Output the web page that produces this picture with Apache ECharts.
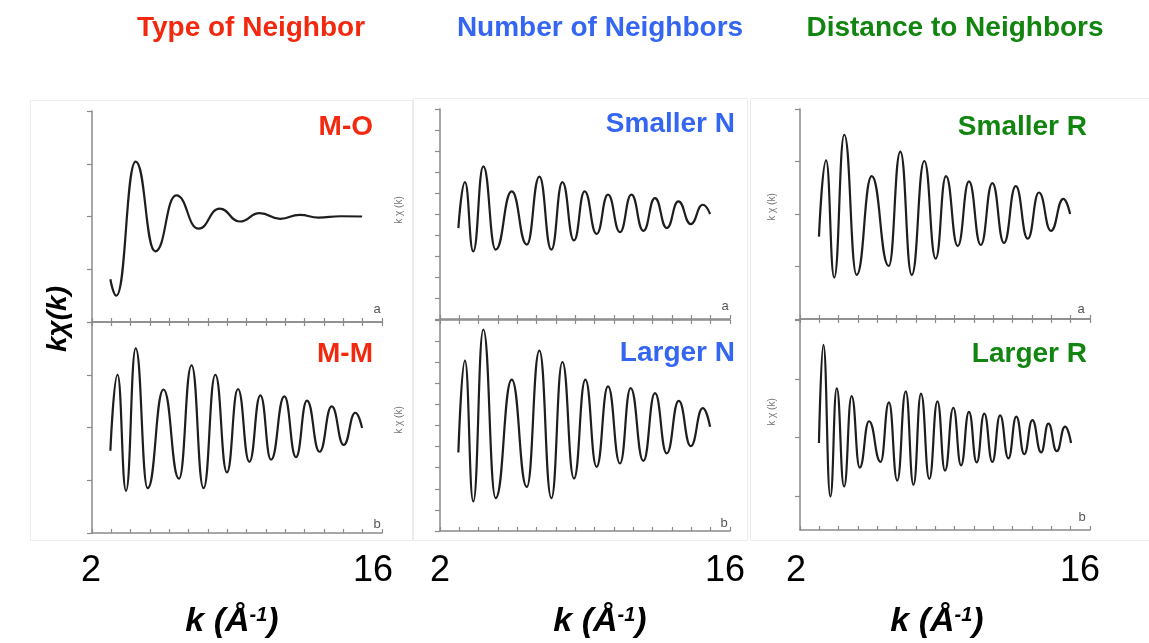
<!DOCTYPE html>
<html>
<head>
<meta charset="utf-8">
<script src="https://cdn.jsdelivr.net/npm/echarts@6/dist/echarts.min.js"></script>
<style>
  html, body { margin: 0; padding: 0; background: #fff; }
  #chart { width: 1149px; height: 643px; }
</style>
</head>
<body>
<div id="chart"></div>
<script>
// k range shared by every panel (Å^-1)
const kMin = 2;
const kMax = 17;
const kEndLabels = ['2', '16'];

// Column headings and panel captions
const headings = ['Type of Neighbor', 'Number of Neighbors', 'Distance to Neighbors'];
const panelNames = [['M-O', 'M-M'], ['Smaller N', 'Larger N'], ['Smaller R', 'Larger R']];
const panelLetters = ['a', 'b'];

// kχ(k) traces: turning points [k, kχ(k)] from the first to the last k
const moTrace = [[2.95,-1.19],[3.26,-1.50],[4.26,1.04],[5.27,-0.66],[6.36,0.40],[7.51,-0.23],
  [8.60,0.15],[9.64,-0.095],[10.67,0.063],[11.74,-0.044],[12.74,0.032],[13.72,-0.02],[14.85,0.005],[15.97,0]];

const mmTrace = [[2.95,-0.44],[3.32,1.00],[3.76,-1.20],[4.26,1.50],[4.88,-1.15],[5.70,0.72],[6.50,-0.97],
  [7.15,1.18],[7.77,-1.15],[8.38,1.00],[8.98,-0.85],[9.55,0.73],[10.14,-0.65],[10.71,0.61],[11.26,-0.61],
  [11.95,0.59],[12.55,-0.56],[13.12,0.51],[13.77,-0.46],[14.40,0.40],[15.02,-0.33],[15.62,0.28],[15.97,-0.01]];

const smallerNTrace = [[2.95,-0.67],[3.29,1.52],[3.72,-1.78],[4.24,2.27],[4.88,-1.70],[5.71,1.08],[6.49,-1.46],
  [7.14,1.78],[7.76,-1.70],[8.33,1.52],[8.93,-1.26],[9.48,1.08],[10.10,-0.95],[10.69,0.92],[11.31,-0.86],
  [11.90,0.92],[12.52,-0.80],[13.12,0.76],[13.73,-0.67],[14.33,0.60],[14.97,-0.48],[15.59,0.44],[15.97,0]];

const largerNTrace = [[2.95,-1.28],[3.29,3.07],[3.72,-3.60],[4.24,4.55],[4.88,-3.44],[5.71,2.17],[6.49,-2.91],
  [7.14,3.55],[7.76,-3.44],[8.33,3.01],[8.93,-2.51],[9.52,2.17],[10.10,-1.96],[10.69,1.85],[11.31,-1.80],
  [11.86,1.77],[12.52,-1.68],[13.12,1.53],[13.73,-1.32],[14.35,1.17],[14.97,-0.98],[15.59,0.82],[15.97,-0.06]];

const smallerRTrace = [[2.98,-0.43],[3.35,1.02],[3.77,-1.21],[4.29,1.51],[4.93,-1.16],[5.71,0.72],[6.59,-0.99],
  [7.19,1.19],[7.78,-1.16],[8.43,1.01],[9.02,-0.85],[9.55,0.72],[10.16,-0.61],[10.74,0.62],[11.35,-0.59],
  [11.95,0.59],[12.55,-0.55],[13.16,0.53],[13.78,-0.47],[14.36,0.41],[14.98,-0.32],[15.62,0.29],[15.97,0]];

const largerRTrace = [[2.98,-0.09],[3.21,1.58],[3.57,-1.00],[3.90,0.84],[4.28,-0.83],[4.67,0.71],[5.09,-0.51],
  [5.57,0.28],[6.17,-0.41],[6.60,0.60],[7.03,-0.73],[7.47,0.79],[7.87,-0.80],[8.26,0.75],[8.69,-0.70],
  [9.11,0.62],[9.50,-0.56],[9.93,0.51],[10.33,-0.47],[10.74,0.44],[11.14,-0.42],[11.53,0.41],[11.95,-0.41],
  [12.35,0.38],[12.78,-0.35],[13.19,0.36],[13.60,-0.28],[14.02,0.30],[14.47,-0.25],[14.85,0.24],[15.28,-0.23],
  [15.71,0.19],[16.02,-0.09]];

// y ranges of the six panels [upper, lower] per column
const yRanges = [
  [{min: -2, max: 2}, {min: -2, max: 2}],
  [{min: -5, max: 5}, {min: -5, max: 5}],
  [{min: -2, max: 2}, {min: -1.57, max: 2.02, ticks: [-1, 0, 1, 2]}]
];
const traces = [[moTrace, mmTrace], [smallerNTrace, largerNTrace], [smallerRTrace, largerRTrace]];

// ---- layout ----
const FONT = '"Liberation Sans", Arial, Helvetica, sans-serif';
const headColors = ['#f2290f', '#3566f2', '#11850f'];
const axisGrey = '#8a8a8a';
const colLeft = [92, 440, 800];
const plotW = 290;
const rows = [
  [{top: 111, h: 211}, {top: 322, h: 211}],
  [{top: 109, h: 210}, {top: 320, h: 211}],
  [{top: 109, h: 210}, {top: 319, h: 211}]
];

const grids = [], xAxes = [], yAxes = [], series = [];

function xAxisCfg(gridIndex, position) {
  return {
    type: 'value', gridIndex, position, min: kMin, max: kMax, interval: 1,
    axisLine: {show: true, onZero: false, lineStyle: {color: axisGrey, width: 1.5}},
    axisTick: {show: true, inside: true, length: 4, lineStyle: {color: axisGrey, width: 1.2}},
    axisLabel: {show: false}, splitLine: {show: false}
  };
}

for (let c = 0; c < 3; c++) {
  for (let r = 0; r < 2; r++) {
    const g = grids.length;
    grids.push({left: colLeft[c], top: rows[c][r].top, width: plotW, height: rows[c][r].h,
      containLabel: false, outerBoundsMode: 'none'});
    if (r === 1) xAxes.push(xAxisCfg(g, 'top'));
    const xIndex = xAxes.length;
    xAxes.push(xAxisCfg(g, 'bottom'));
    const yr = yRanges[c][r];
    const yCfg = {
      type: 'value', gridIndex: g, min: yr.min, max: yr.max,
      axisLine: {show: true, onZero: false, lineStyle: {color: axisGrey, width: 1.5}},
      axisTick: {show: true, inside: false, length: 5, lineStyle: {color: axisGrey, width: 1.2}},
      axisLabel: {show: false}, splitLine: {show: false}
    };
    if (yr.ticks) {
      yCfg.axisTick.customValues = yr.ticks;
      yCfg.splitNumber = 4;
    } else {
      yCfg.interval = 1;
    }
    yAxes.push(yCfg);
    series.push({
      type: 'line', xAxisIndex: xIndex, yAxisIndex: yAxes.length - 1,
      data: traces[c][r], showSymbol: false, symbol: 'none',
      smooth: 0.5, smoothMonotone: 'x', silent: true,
      lineStyle: {color: '#1e1e1e', width: 2.2}
    });
  }
}

// ---- text and frames ----
const texts = [];

// faint outlines of the three figure tiles
const tiles = [[30, 100, 382, 440], [413, 98, 334, 442], [750, 98, 399, 442]];
tiles.forEach(t => texts.push({
  type: 'rect', shape: {x: t[0] + 0.5, y: t[1] + 0.5, width: t[2], height: t[3]},
  style: {fill: null, stroke: '#ececec', lineWidth: 1}, silent: true, z: -1
}));

const headX = [251, 600, 955];
headings.forEach((t, i) => texts.push({
  type: 'text', x: headX[i], y: 28,
  style: {text: t, fill: headColors[i], font: 'bold 28px ' + FONT, align: 'center', verticalAlign: 'middle'}
}));

const nameRight = [373, 735, 1087];
const nameY = [[127, 354], [124, 353], [127, 354]];
const letterPos = [[[377, 309], [377, 524]], [[725, 306], [724, 523]], [[1081, 309], [1082, 517]]];
for (let c = 0; c < 3; c++) {
  for (let r = 0; r < 2; r++) {
    texts.push({type: 'text', x: nameRight[c], y: nameY[c][r],
      style: {text: panelNames[c][r], fill: headColors[c], font: 'bold 28px ' + FONT,
        align: 'right', verticalAlign: 'middle'}});
    texts.push({type: 'text', x: letterPos[c][r][0], y: letterPos[c][r][1],
      style: {text: panelLetters[r], fill: '#555', font: '13px ' + FONT, align: 'center', verticalAlign: 'middle'}});
  }
}

// small per-panel ordinate captions
const smallCap = [[399, 210], [399, 420], [772, 207], [772, 412]];
smallCap.forEach(p => texts.push({
  type: 'text', x: p[0], y: p[1], rotation: Math.PI / 2,
  style: {text: 'k χ (k)', fill: '#777', font: '10px ' + FONT, align: 'center', verticalAlign: 'middle'}
}));

// shared ordinate title
texts.push({type: 'text', x: 58, y: 319, rotation: Math.PI / 2,
  style: {text: 'kχ(k)', fill: '#000', font: 'italic bold 28px ' + FONT, align: 'center', verticalAlign: 'middle'}});

// k end labels and abscissa titles under each column
const endX = [[91, 373], [440, 725], [796, 1080]];
const titleX = [232, 600, 937];
for (let c = 0; c < 3; c++) {
  kEndLabels.forEach((t, j) => texts.push({
    type: 'text', x: endX[c][j], y: 571,
    style: {text: t, fill: '#000', font: '36px ' + FONT, align: 'center', verticalAlign: 'middle'}
  }));
  texts.push({
    type: 'text', x: titleX[c], y: 622,
    style: {
      text: '{m|k (Å}{s|-1}{m|)}', align: 'center', verticalAlign: 'middle',
      rich: {
        m: {fontSize: 34, fontWeight: 'bold', fontStyle: 'italic', fontFamily: FONT, fill: '#000'},
        s: {fontSize: 20, fontWeight: 'bold', fontStyle: 'italic', fontFamily: FONT, fill: '#000', verticalAlign: 'top'}
      }
    }
  });
}

const chart = echarts.init(document.getElementById('chart'), null, {renderer: 'canvas'});
chart.setOption({
  backgroundColor: '#fff',
  animation: false,
  grid: grids,
  xAxis: xAxes,
  yAxis: yAxes,
  series: series,
  graphic: {elements: texts}
});
</script>
</body>
</html>
